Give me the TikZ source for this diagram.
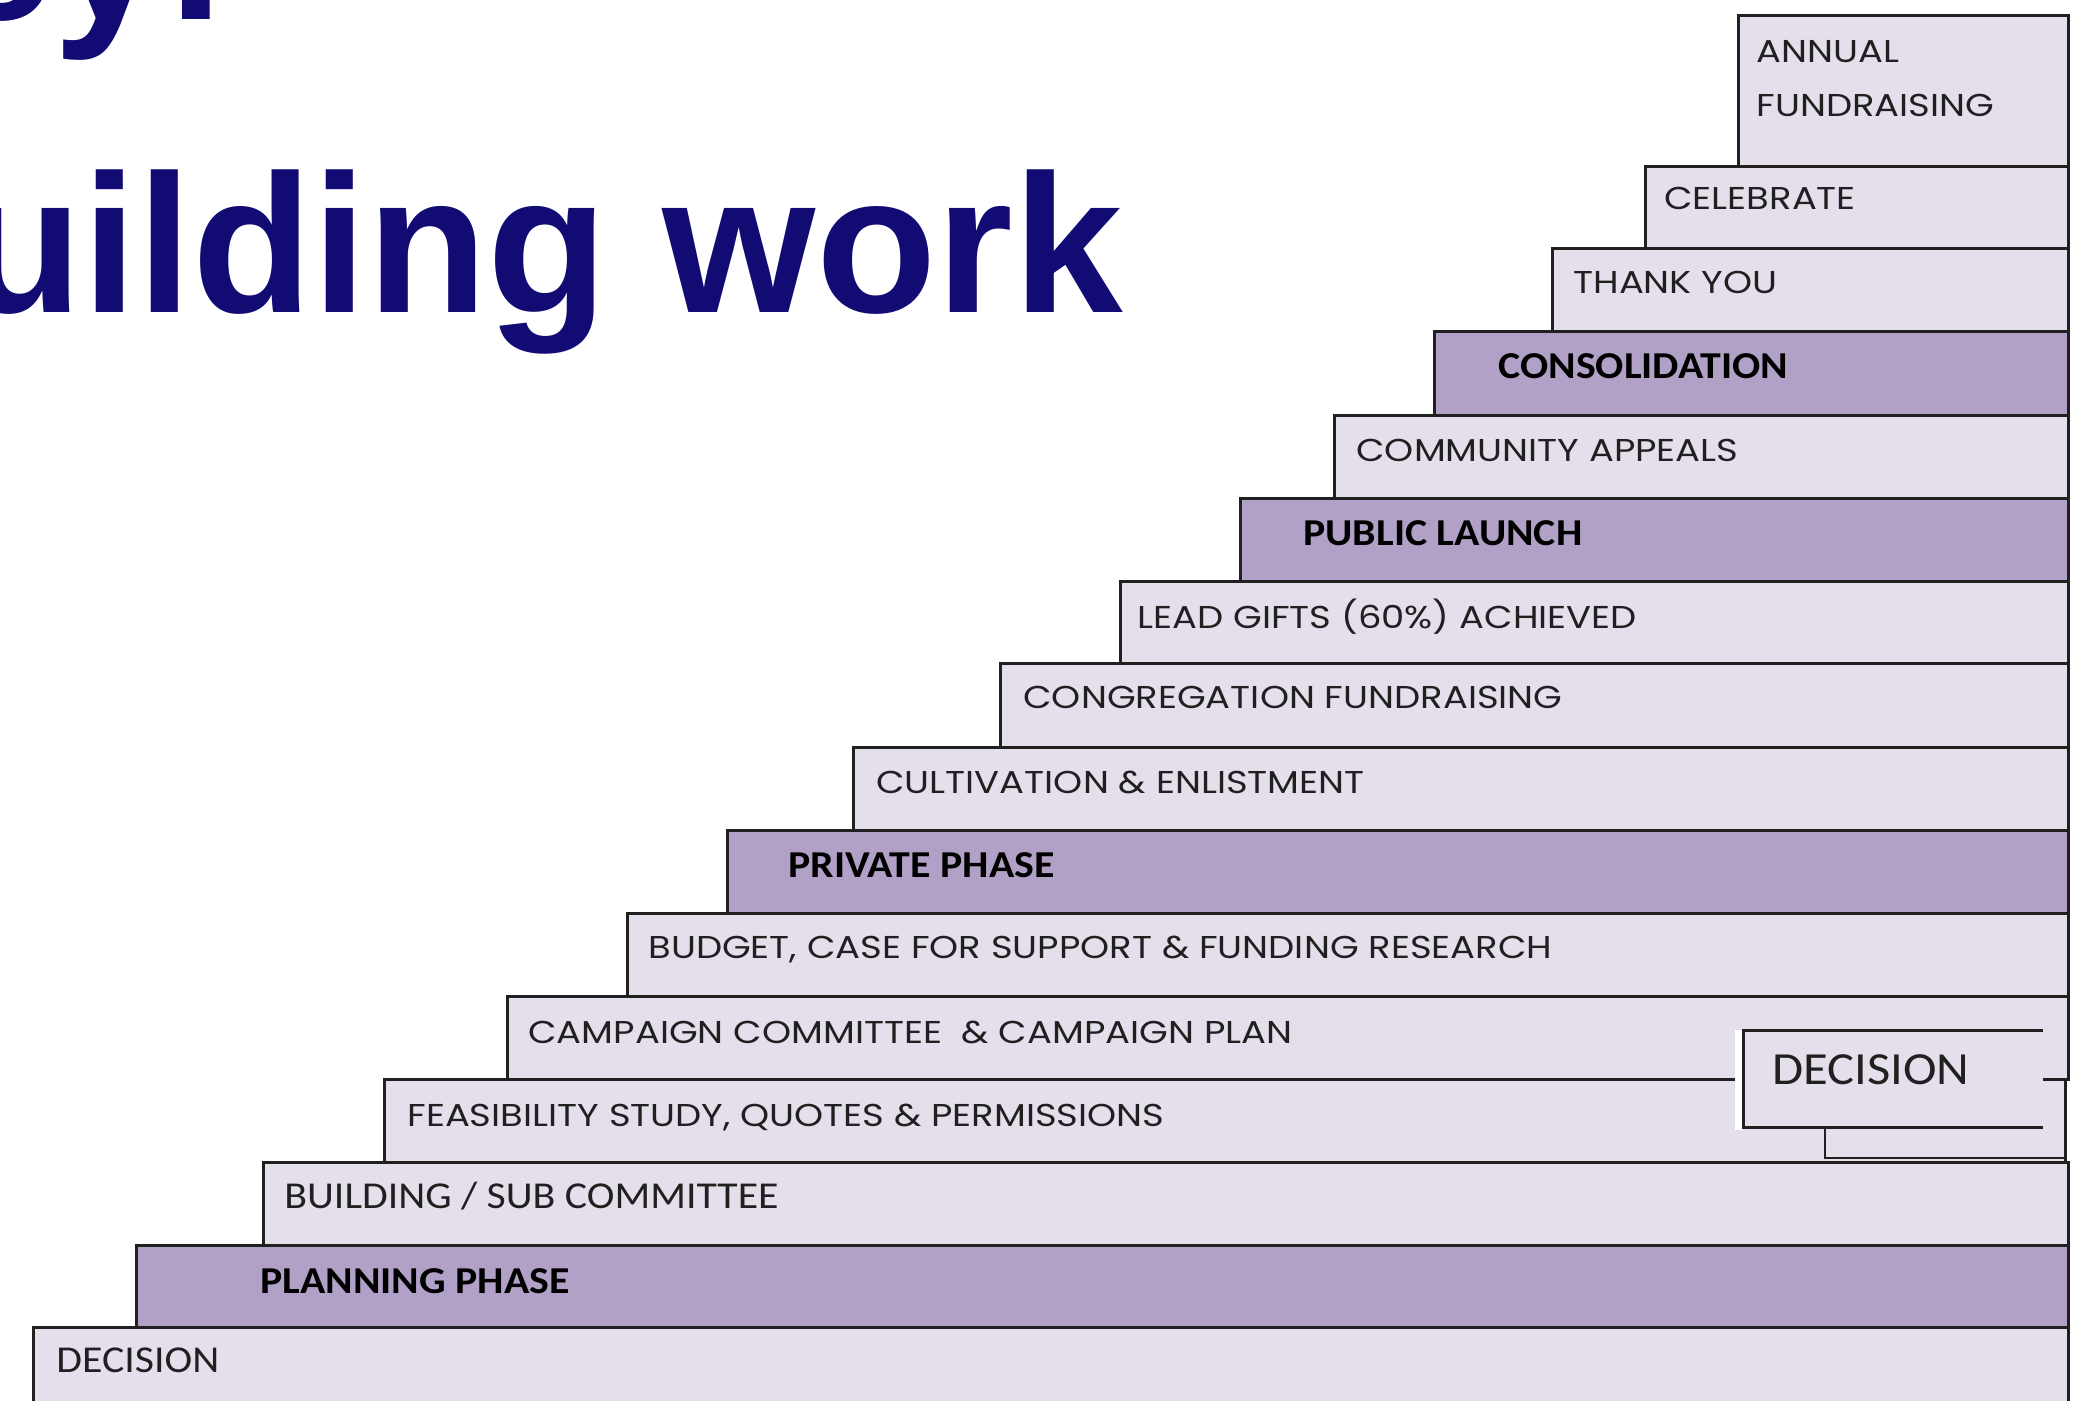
\documentclass[tikz,border=0pt]{standalone}
\usepackage{fontspec}
\setmainfont{Liberation Sans}
\newfontfamily\gothicfont[FakeStretch=1.17]{Poppins}
\newfontfamily\calibrifont[FakeStretch=1.1]{Carlito}
\definecolor{titlenavy}{RGB}{17,11,115}
\definecolor{paleplum}{RGB}{229,223,236}
\definecolor{midplum}{RGB}{178,161,199}
\definecolor{stepline}{RGB}{32,32,32}
\tikzset{
	stepbox/.style={fill=paleplum, draw=stepline, line width=1.5pt},
	phasebox/.style={fill=midplum, draw=stepline, line width=1.5pt},
	titletext/.style={anchor=base west, inner sep=0pt, text=titlenavy,
			font=\bfseries\fontsize{98.5}{110}\selectfont},
	steplabel/.style={anchor=base west, inner sep=0pt, text=stepline,
			font=\gothicfont\fontsize{15.8}{27}\selectfont},
	plainlabel/.style={anchor=base west, inner sep=0pt, text=stepline,
			font=\calibrifont\fontsize{19}{22}\selectfont},
	phaselabel/.style={anchor=base west, inner sep=0pt, text=black,
			font=\calibrifont\bfseries\fontsize{19}{22}\selectfont}
}

\begin{document}
\begin{tikzpicture}[x=0.5pt, y=-0.5pt]
		% Fix the frame
		\useasboundingbox (0,0) rectangle (2091,1401);
		\clip (0,0) rectangle (2091,1401);
		% Draw the title
		\node[titletext] (titletop) at (-56,20) {ey:};
		\node[titletext] (titlework) at (-38,313) {uilding work};
		% Draw the steps
		\filldraw[stepbox] (1738,16) rectangle (2068,167);
		\filldraw[stepbox] (1645,167) rectangle (2068,249);
		\filldraw[stepbox] (1552,249) rectangle (2068,332);
		\filldraw[phasebox] (1434,332) rectangle (2068,415);
		\filldraw[stepbox] (1334,415) rectangle (2068,498);
		\filldraw[phasebox] (1240,498) rectangle (2068,581);
		\filldraw[stepbox] (1120,581) rectangle (2068,663);
		\filldraw[stepbox] (1000,663) rectangle (2068,747);
		\filldraw[stepbox] (853,747) rectangle (2068,830);
		\filldraw[phasebox] (727,830) rectangle (2068,913);
		\filldraw[stepbox] (627,913) rectangle (2068,996);
		\filldraw[stepbox] (507,996) rectangle (2068,1079);
		\filldraw[stepbox] (384,1079) rectangle (2065,1162);
		\filldraw[stepbox] (263,1162) rectangle (2068,1245);
		\filldraw[phasebox] (136,1245) rectangle (2068,1327);
		\filldraw[stepbox] (33,1327) rectangle (2068,1430);
		% Label the steps
		\node[steplabel] (annual) at (1756,63) {ANNUAL};
		\node[steplabel] (fundraising) at (1756,117) {FUNDRAISING};
		\node[steplabel] (celebrate) at (1664,210) {CELEBRATE};
		\node[steplabel] (thanks) at (1573,294) {THANK YOU};
		\node[phaselabel] (consolidation) at (1498,379) {CONSOLIDATION};
		\node[steplabel] (appeals) at (1356,461) {COMMUNITY APPEALS};
		\node[phaselabel] (launch) at (1303,545) {PUBLIC LAUNCH};
		\node[steplabel] (leadgifts) at (1137,628) {LEAD GIFTS (60\%) ACHIEVED};
		\node[steplabel] (congregation) at (1023,708) {CONGREGATION FUNDRAISING};
		\node[steplabel] (cultivation) at (876,793) {CULTIVATION \& ENLISTMENT};
		\node[phaselabel] (private) at (788,877) {PRIVATE PHASE};
		\node[steplabel] (budget) at (648,958) {BUDGET,\ CASE FOR SUPPORT \& FUNDING RESEARCH};
		\node[steplabel] (campaign) at (528,1043) {CAMPAIGN COMMITTEE\ \ \& CAMPAIGN PLAN};
		\node[steplabel] (feasibility) at (407,1126) {FEASIBILITY STUDY, QUOTES \& PERMISSIONS};
		\node[plainlabel] (subcommittee) at (284,1208) {BUILDING / SUB COMMITTEE};
		\node[phaselabel] (planning) at (260,1293) {PLANNING PHASE};
		\node[plainlabel] (decision) at (56,1372) {DECISION};
		% Draw the pasted decision box
		\draw[stepline, line width=0.8pt] (1825,1127) -- (1825,1158) -- (2065,1158);
		\fill[white] (1735,1030) rectangle (1743,1130);
		\fill[paleplum] (1743,1030) rectangle (2043,1127);
		\draw[stepline, line width=1.5pt] (2043,1030) -- (1743,1030) -- (1743,1127) -- (2043,1127);
		\node[plainlabel, font=\calibrifont\fontsize{23}{26}\selectfont] (latedecision) at (1772,1084) {DECISION};
	\end{tikzpicture}
\end{document}
